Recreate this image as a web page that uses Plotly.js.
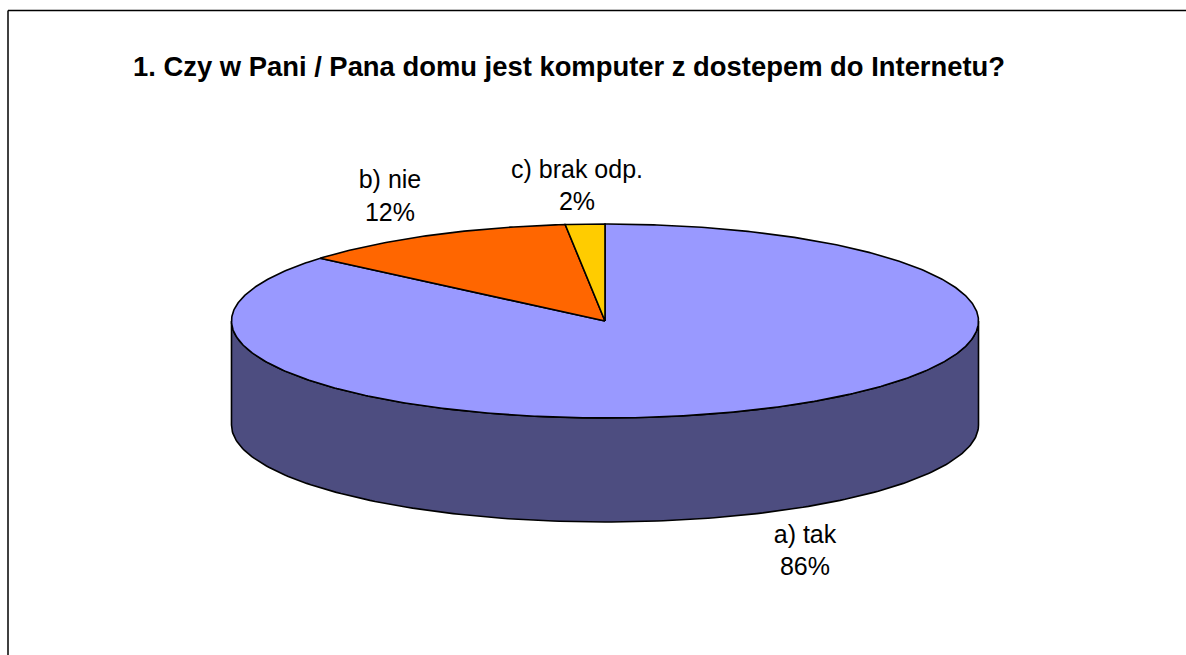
<!DOCTYPE html>
<html><head><meta charset="utf-8">
<script src="https://cdn.plot.ly/plotly-3.0.1.min.js"></script>
<style>html,body{margin:0;padding:0;background:#fff}#c{width:1186px;height:655px}</style>
</head><body><div id="c"></div>
<script>
var chartTitle = "1. Czy w Pani / Pana domu jest komputer z dostepem do Internetu?";
var categories = ["a) tak", "b) nie", "c) brak odp."];
var shares = [86.2, 12.1, 1.7];
var sliceColors = ["#9999FF", "#FF6600", "#FFCC00"];
var sideColor = "#4D4D80";

// Layout geometry of the drawing (pixel-scale axes)
var cx = 605, cy = 321, rx = 373.5, ry = 97, depth = 104;
var labelPos = [[805, 537, 569], [390, 182, 215], [577, 172, 204]];

function pt(fr) { // fr: fraction of turn clockwise from 12 o'clock
  var a = fr * 2 * Math.PI;
  return [cx + rx * Math.sin(a), cy - ry * Math.cos(a)];
}
var total = shares.reduce(function (s, v) { return s + v; }, 0);
var traces = [];

// Side wall: visible front half of the rim
var sx = [], sy = [], i;
for (i = 0; i <= 180; i++) { var p = pt(0.25 + i / 360); sx.push(p[0]); sy.push(p[1]); }
for (i = 180; i >= 0; i--) { var q = pt(0.25 + i / 360); sx.push(q[0]); sy.push(q[1] + depth); }
sx.push(sx[0]); sy.push(sy[0]);
traces.push({x: sx, y: sy, mode: "lines", fill: "toself", fillcolor: sideColor,
  line: {color: "#000", width: 1.6}, hoverinfo: "skip", showlegend: false});

// Top slices
var start = 0;
shares.forEach(function (v, k) {
  var f0 = start / total, f1 = (start + v) / total, xs = [cx], ys = [cy];
  var n = Math.max(4, Math.round((f1 - f0) * 720));
  for (var j = 0; j <= n; j++) { var r = pt(f0 + (f1 - f0) * j / n); xs.push(r[0]); ys.push(r[1]); }
  xs.push(cx); ys.push(cy);
  traces.push({x: xs, y: ys, mode: "lines", fill: "toself", fillcolor: sliceColors[k],
    line: {color: "#000", width: 1.6}, name: categories[k], hoverinfo: "skip", showlegend: false});
  start += v;
});

// Labels
var font = {family: "Liberation Sans, Arial, sans-serif", size: 25, color: "#000"};
traces.push({x: labelPos.map(function (l) { return l[0]; }), y: labelPos.map(function (l) { return l[1]; }),
  text: categories, mode: "text", textposition: "middle center", textfont: font,
  hoverinfo: "skip", showlegend: false});
traces.push({x: labelPos.map(function (l) { return l[0]; }), y: labelPos.map(function (l) { return l[2]; }),
  text: shares.map(function (v) { return Math.round(v / total * 100) + "%"; }),
  mode: "text", textposition: "middle center", textfont: font, hoverinfo: "skip", showlegend: false});

var W = 1186, H = 655;
var layout = {
  width: W, height: H, margin: {l: 0, r: 0, t: 0, b: 0},
  paper_bgcolor: "#fff", plot_bgcolor: "#fff", showlegend: false,
  xaxis: {range: [0, W], visible: false, fixedrange: true},
  yaxis: {range: [H, 0], visible: false, fixedrange: true},
  shapes: [
    {type: "line", xref: "x", yref: "y", x0: 8, y0: 10.5, x1: W, y1: 10.5, line: {color: "#000", width: 1.5}},
    {type: "line", xref: "x", yref: "y", x0: 8, y0: 10.5, x1: 8, y1: H, line: {color: "#000", width: 1.5}}
  ],
  annotations: [{xref: "x", yref: "y", x: 568.5, y: 66, xanchor: "center", yanchor: "middle", showarrow: false,
    text: "<b>" + chartTitle + "</b>",
    font: {family: "Liberation Sans, Arial, sans-serif", size: 27.4, color: "#000"}}]
};
Plotly.newPlot("c", traces, layout, {displayModeBar: false, staticPlot: true});
</script></body></html>
